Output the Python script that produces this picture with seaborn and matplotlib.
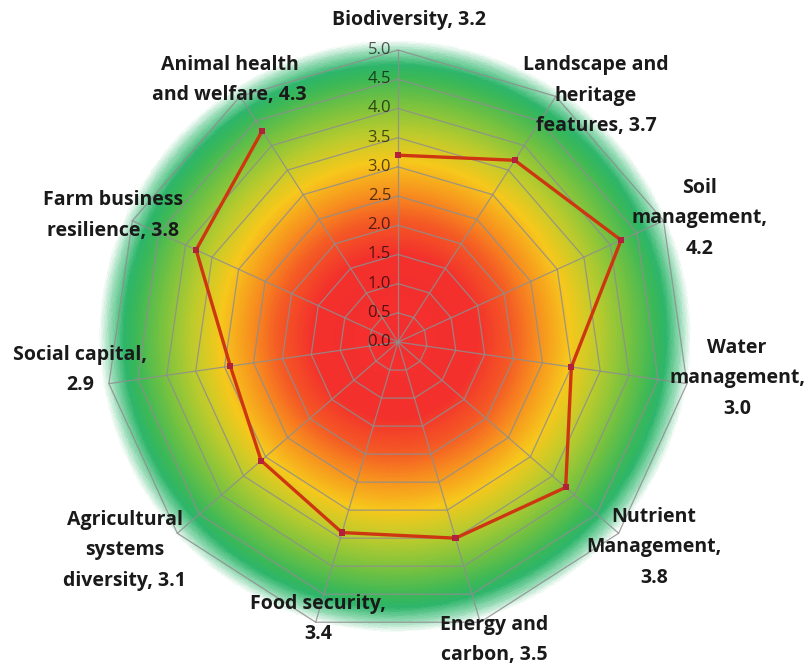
import numpy as np
import pandas as pd
import matplotlib
matplotlib.use("Agg")
import matplotlib.pyplot as plt
from matplotlib.colors import LinearSegmentedColormap
import seaborn as sns

# categories clockwise from the top, with their scores
CATEGORIES = ["Biodiversity", "Landscape and\nheritage\nfeatures", "Soil\nmanagement",
              "Water\nmanagement", "Nutrient\nManagement", "Energy and\ncarbon",
              "Food security", "Agricultural\nsystems\ndiversity", "Social capital",
              "Farm business\nresilience", "Animal health\nand welfare"]
SCORES = [3.2, 3.7, 4.2, 3.0, 3.8, 3.5, 3.4, 3.1, 2.9, 3.8, 4.3]
VALUE_SEP = [" ", " ", "\n", "\n", "\n", " ", "\n", " ", "\n", " ", " "]
RTICKS = [0.0, 0.5, 1.0, 1.5, 2.0, 2.5, 3.0, 3.5, 4.0, 4.5, 5.0]

# label placement (angle in degrees clockwise from top, radius in score units)
LABEL_POS = [(1.9, 5.52), (38.8, 5.41), (67.7, 5.59), (96.1, 5.84), (128.7, 5.62),
             (162.1, 5.36), (196.1, 4.94), (232.7, 5.88), (265.0, 5.47),
             (293.9, 5.34), (327.3, 5.33)]

RMAX = 5.0
RLIM = 5.4

sns.set_style("white")
plt.rcParams['font.family'] = ['Open Sans', 'DejaVu Sans']

fig = plt.figure(figsize=(8.06, 6.66), dpi=100)
ax = fig.add_axes([0.1025, 0.0129, 0.7825, 0.947], projection='polar')
ax.set_theta_zero_location('N')
ax.set_theta_direction(-1)
ax.set_ylim(0, RLIM)
ax.axis('off')

# radial red -> yellow -> green background, its centre sits a little above the
# chart centre and it fades out to white around 5.0
stops = [(0.0, "#F42E2E"), (1.4, "#F3302C"), (2.0, "#F45A24"), (2.5, "#F7941E"),
         (3.0, "#F6C81C"), (3.5, "#BACB2D"), (4.0, "#78C23F"), (4.45, "#3BB857"),
         (4.65, "#2DB56A"), (4.9, "#9ADCB8"), (5.08, "#FFFFFF"), (6.0, "#FFFFFF")]
cmap = LinearSegmentedColormap.from_list("score", [(r / 6.0, c) for r, c in stops])
th_edges = np.linspace(0, 2 * np.pi, 721)
r_edges = np.linspace(0, RLIM, 401)
T, R = np.meshgrid(th_edges, r_edges)
th_mid = (th_edges[:-1] + th_edges[1:]) / 2
r_mid = (r_edges[:-1] + r_edges[1:]) / 2
TM, RM = np.meshgrid(th_mid, r_mid)
gx, gy = -0.05, 0.1
C = np.hypot(RM * np.sin(TM) - gx, RM * np.cos(TM) - gy)
ax.pcolormesh(T, R, C, cmap=cmap, vmin=0, vmax=6.0, shading='flat',
              edgecolors='face', linewidth=0, antialiased=False, rasterized=True)

n = len(CATEGORIES)
theta = np.arange(n) * 2 * np.pi / n
theta_closed = np.append(theta, theta[0])

# polygon grid and spokes
grid_col = "#8E8E8E"
for r in RTICKS[1:]:
    ax.plot(theta_closed, [r] * (n + 1), color=grid_col, lw=0.9, alpha=0.85, zorder=2)
for t in theta:
    ax.plot([t, t], [0, RMAX], color=grid_col, lw=0.9, alpha=0.85, zorder=2)

for r in RTICKS:
    ax.annotate(f"{r:.1f}", xy=(0, r), xytext=(-5, 0), textcoords='offset points',
                ha='right', va='center', fontsize=12, color="#000000", alpha=0.65,
                zorder=3)

df = pd.DataFrame({"theta": theta_closed, "score": SCORES + SCORES[:1]})
sns.lineplot(data=df, x="theta", y="score", sort=False, ax=ax, color="#CE3612",
             lw=2.4, zorder=4, legend=False)
sns.scatterplot(data=df.iloc[:-1], x="theta", y="score", ax=ax, marker='s', s=20,
                color="#B3203A", edgecolor="none", zorder=5, legend=False)
ax.set_xlabel("")
ax.set_ylabel("")

for cat, v, sep, (ang, rl) in zip(CATEGORIES, SCORES, VALUE_SEP, LABEL_POS):
    ax.text(np.deg2rad(ang), rl, f"{cat},{sep}{v:.1f}", ha='center', va='center',
            fontsize=14, fontweight='bold', color="#1A1A1A", linespacing=1.7,
            clip_on=False, zorder=6)

fig.savefig("out.png", dpi=100)
